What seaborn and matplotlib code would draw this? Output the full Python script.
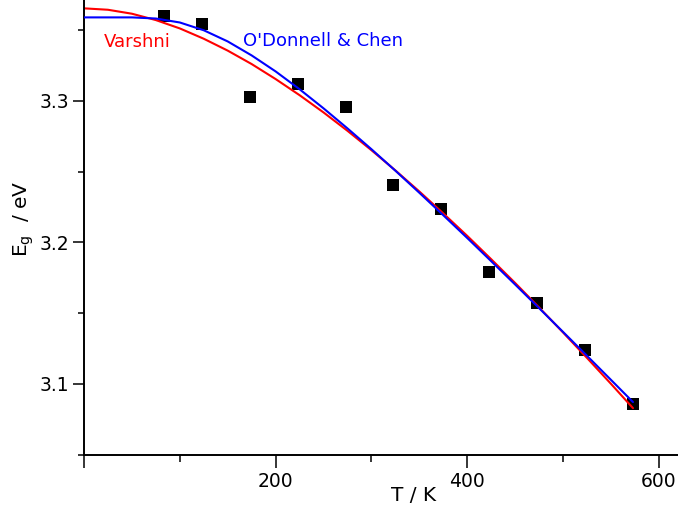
import numpy as np
import pandas as pd
import matplotlib
matplotlib.use("Agg")
import matplotlib.pyplot as plt
import seaborn as sns
from matplotlib.ticker import FixedLocator

# measured band gap
T_data = [83, 123, 173, 223, 273, 323, 373, 423, 473, 523, 573]
Eg_data = [3.3603, 3.3546, 3.3030, 3.3122, 3.2958, 3.2409, 3.2235, 3.1794, 3.1570, 3.1240, 3.0857]

# Varshni fit curve
T_varshni = [0, 25, 50, 75, 100, 125, 150, 175, 200, 225, 250, 275, 300, 325, 350, 375, 400, 425, 450, 475, 500, 525, 550, 573]
E_varshni = [3.3655, 3.3645, 3.3617, 3.3572, 3.3513, 3.3440, 3.3356, 3.3261, 3.3155, 3.3041, 3.2919, 3.2789,
             3.2652, 3.2509, 3.2360, 3.2205, 3.2046, 3.1881, 3.1713, 3.1540, 3.1363, 3.1183, 3.1000, 3.0828]

# O'Donnell & Chen fit curve
T_odc = [0, 25, 50, 75, 100, 125, 150, 175, 200, 225, 250, 275, 300, 325, 350, 375, 400, 425, 450, 475, 500, 525, 550, 573]
E_odc = [3.3591, 3.3591, 3.3591, 3.3583, 3.3555, 3.3500, 3.3421, 3.3322, 3.3209, 3.3083, 3.2948, 3.2806,
         3.2659, 3.2507, 3.2351, 3.2192, 3.2031, 3.1867, 3.1702, 3.1535, 3.1367, 3.1198, 3.1028, 3.0871]

xticks_major = [0, 200, 400, 600]
xtick_labels = ["", "200", "400", "600"]
xticks_minor = [100, 300, 500]
yticks_major = [3.1, 3.2, 3.3]
ytick_labels = ["3.1", "3.2", "3.3"]
yticks_minor = [3.05, 3.15, 3.25, 3.35]

sns.set_style("ticks")
plt.rcParams["font.family"] = ["DejaVu Sans"]
plt.rcParams["text.color"] = "black"
plt.rcParams["axes.labelcolor"] = "black"
plt.rcParams["xtick.color"] = "black"
plt.rcParams["ytick.color"] = "black"

fig = plt.figure(figsize=(6.78, 5.16), dpi=100)
ax = fig.add_axes([84 / 678, (516 - 454.5) / 516, (678 - 84) / 678, 454.5 / 516])

df_v = pd.DataFrame({"T": T_varshni, "E": E_varshni})
df_o = pd.DataFrame({"T": T_odc, "E": E_odc})
df_d = pd.DataFrame({"T": T_data, "E": Eg_data})

sns.lineplot(data=df_v, x="T", y="E", color="#ff0000", linewidth=1.5, sort=False, estimator=None, ax=ax, zorder=2)
sns.lineplot(data=df_o, x="T", y="E", color="#0000ff", linewidth=1.5, sort=False, estimator=None, ax=ax, zorder=3)
sns.scatterplot(data=df_d, x="T", y="E", marker="s", s=66, color="black", linewidth=0, ax=ax, zorder=1)

ax.set_xlim(0, 620)
ax.set_ylim(3.05, 3.3714)

ax.xaxis.set_major_locator(FixedLocator(xticks_major))
ax.set_xticklabels(xtick_labels)
ax.xaxis.set_minor_locator(FixedLocator(xticks_minor))
ax.yaxis.set_major_locator(FixedLocator(yticks_major))
ax.set_yticklabels(ytick_labels)
ax.yaxis.set_minor_locator(FixedLocator(yticks_minor))

ax.tick_params(axis="x", which="major", length=9.5, width=1.1, labelsize=13.5, direction="out", pad=3,
               colors="black")
ax.tick_params(axis="x", which="minor", length=5, width=1.1, direction="out", colors="black")
ax.tick_params(axis="y", which="major", length=8, width=1.1, labelsize=13.5, direction="out", pad=3,
               colors="black")
ax.tick_params(axis="y", which="minor", length=4, width=1.1, direction="out", colors="black")

for side in ["top", "right"]:
    ax.spines[side].set_visible(False)
for side in ["left", "bottom"]:
    ax.spines[side].set_linewidth(1.4)
    ax.spines[side].set_color("black")

ax.set_xlabel("T / K", fontsize=14.5, color="black")
ax.set_ylabel(r"E$_\mathregular{g}$  / eV", fontsize=14.5, color="black")
ax.xaxis.set_label_coords(0.5556, -0.070)
ax.yaxis.set_label_coords(-0.080, 0.519)

ax.text(20.5, 3.3417, "Varshni", color="#ff0000", fontsize=13, ha="left", va="center")
ax.text(166, 3.3424, "O'Donnell & Chen", color="#0000ff", fontsize=13, ha="left", va="center")

fig.savefig("out.png", dpi=100)
